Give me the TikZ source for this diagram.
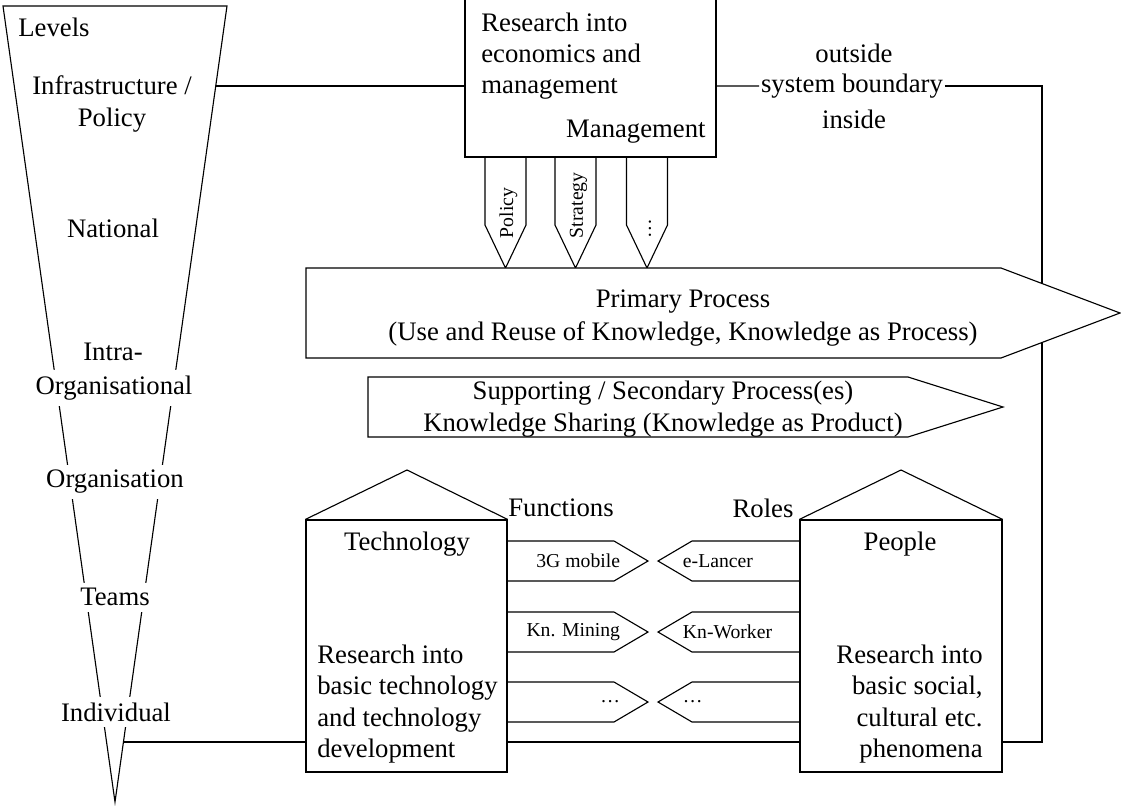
\documentclass[tikz,border=0pt]{standalone}
\usepackage{fontspec}
\setmainfont{Liberation Serif}
\usetikzlibrary{calc}

\begin{document}
\begin{tikzpicture}[x=0.025cm, y=-0.025cm, line width=0.8pt,
  txt/.style={font=\fontsize{19}{22.3}\selectfont, inner sep=2pt, align=center},
  lvl/.style={txt, fill=white, inner sep=4pt},
  small/.style={font=\fontsize{14}{16}\selectfont, inner sep=1pt},
  wall/.style={draw, inner sep=0pt, minimum width=#1}]
  \useasboundingbox (0,0) rectangle (1121,805);

  % levels funnel
  \coordinate (ftl) at (3,6);
  \coordinate (ftr) at (227,6);
  \coordinate (ftip) at (115,802);
  \draw (ftl) -- (ftr) -- (ftip) -- cycle;
  \coordinate (fA) at ($(ftr)!0.1005!(ftip)$);
  \coordinate (fB) at ($(ftr)!0.9246!(ftip)$);
  \node[txt, anchor=west] (levels) at (15,27) {Levels};
  \node[lvl] (infra) at (112,104) {Infrastructure /\\Policy};
  \node[lvl] (natl) at (113,228) {National};
  \node[lvl] (intra) at (113,352) {Intra-};
  \node[lvl] (orgl) at (114,388) {Organisational};
  \node[lvl] (org) at (115,482) {Organisation};
  \node[lvl] (teams) at (115,597) {Teams};
  \node[lvl] (indiv) at (116,712) {Individual};

  % management on top
  \node[wall=6.275cm, minimum height=4cm] (mgmt) at (590.5,77) {};
  \node[txt, align=left, anchor=west] (mres) at (478,56) {Research into\\economics and\\management};
  \node[txt, anchor=east] (mlab) at (709,132) {Management};
  \foreach \x/\t [count=\i] in {505.5/Policy, 575.5/Strategy, 647/\dots} {
    \draw (\x-20.5,157) -- (\x-20.5,225) -- (\x,268) -- (\x+20.5,225) -- (\x+20.5,157);
    \node[small, rotate=90, anchor=west] (pol\i) at (\x+3,240) {\t};
  }

  % system boundary
  \node[txt] (outs) at (854,53) {outside};
  \node[txt, inner sep=1pt] (sysb) at (852,86) {system boundary};
  \node[txt] (ins) at (854,119) {inside};
  \coordinate (bnd) at (1042,86);

  % technology and people
  \node[wall=5.025cm, minimum height=6.3cm] (tech) at (406.5,646) {};
  \node[wall=5.05cm, minimum height=6.3cm] (people) at (901,646) {};
  \draw (tech.north west) -- (407,470) -- (tech.north east);
  \draw (people.north west) -- (901,470) -- (people.north east);
  \node[txt] (techl) at (407,544) {Technology};
  \node[txt] (peoplel) at (900,544) {People};
  \node[txt, align=left, anchor=west] (techres) at (314,704) {Research into\\basic technology\\and technology\\development};
  \node[txt, align=right, anchor=east] (peopleres) at (986,704) {Research into\\basic social,\\cultural etc.\\phenomena};
  \node[txt] (func) at (561,508) {Functions};
  \node[txt] (roles) at (763,508) {Roles};
  \foreach \yy/\f/\r [count=\i] in {561/3G mobile/e-Lancer, 632/Kn. Mining/Kn-Worker, 702/\dots/\dots} {
    \draw (tech.east |- 0,\yy-20) -- (614,\yy-20) -- (648,\yy) -- (614,\yy+20) -- (tech.east |- 0,\yy+20);
    \draw (people.west |- 0,\yy-20) -- (692,\yy-20) -- (658,\yy) -- (692,\yy+20) -- (people.west |- 0,\yy+20);
    \node[small, anchor=east] (fn\i) at (622,\yy) {\f};
    \node[small, anchor=west] (rl\i) at (681,\yy) {\r};
  }

  % connectors
  \draw (fA) -- (fA -| mgmt.west);
  \draw (fA -| mgmt.east) -- (sysb.west);
  \draw (sysb.east) -- (bnd) -- (bnd |- fB) -- (fB -| people.east);
  \draw (fB) -- (fB -| tech.west);
  \draw (fB -| tech.east) -- (fB -| people.west);

  % processes
  \draw[fill=white] (306,268) -- (1001,268) -- (1120,313) -- (1001,358) -- (306,358) -- cycle;
  \node[txt, font=\fontsize{19}{23.5}\selectfont] (prim) at (683,318) {Primary Process\\(Use and Reuse of Knowledge, Knowledge as Process)};
  \draw[fill=white] (368,377) -- (908,377) -- (1003,407) -- (908,437) -- (368,437) -- cycle;
  \node[txt] (sec) at (663,409) {Supporting / Secondary Process(es)\\Knowledge Sharing (Knowledge as Product)};
\end{tikzpicture}
\end{document}
